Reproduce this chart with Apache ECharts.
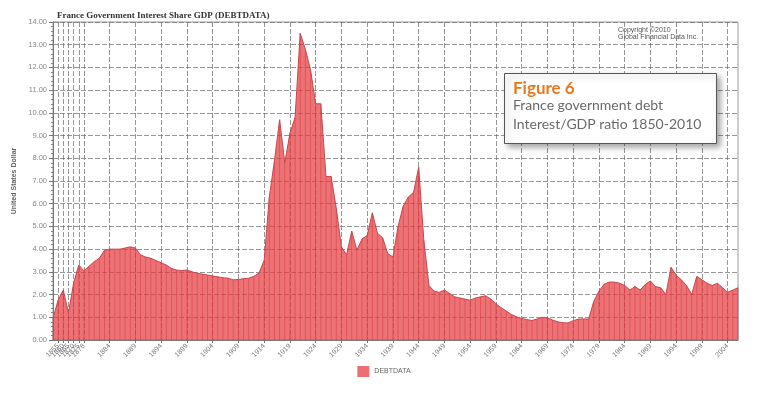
<!DOCTYPE html>
<html>
<head>
<meta charset="utf-8">
<script src="https://cdn.jsdelivr.net/npm/echarts@6/dist/echarts.min.js"></script>
<style>
html,body{margin:0;padding:0;background:#fff;}
#chart{width:768px;height:398px;}
</style>
</head>
<body>
<div id="chart"></div>
<script>
// Category labels (years); early period is sparse
var earlyYears = ['1850','1855','1860','1865','1870','1875','1878','1880','1881','1882','1883'];
var earlyValues = [0.95, 1.76, 2.2, 1.2, 2.5, 3.3, 3.05, 3.25, 3.45, 3.6, 3.95];

var annualStart = 1884;
var annualValues = [
  4.0, 4.0, 4.0, 4.05, 4.1, 4.05, 3.75, 3.65, 3.6, 3.5,
  3.4, 3.3, 3.15, 3.08, 3.05, 3.08, 3.0, 2.94, 2.9, 2.86,
  2.82, 2.78, 2.74, 2.72, 2.65, 2.66, 2.7, 2.72, 2.8, 2.95,
  3.5, 6.3, 7.9, 9.7, 7.8, 9.1, 9.8, 13.5, 12.8, 11.9,
  10.4, 10.4, 7.2, 7.2, 5.8, 4.1, 3.75, 4.8, 3.96, 4.45,
  4.6, 5.6, 4.7, 4.5, 3.8, 3.66, 5.0, 5.9, 6.3, 6.5,
  7.6, 4.4, 2.4, 2.15, 2.1, 2.2, 2.05, 1.9, 1.85, 1.8,
  1.75, 1.85, 1.9, 1.95, 1.8, 1.6, 1.42, 1.28, 1.12, 1.02,
  0.95, 0.9, 0.86, 0.92, 1.0, 0.97, 0.88, 0.8, 0.76, 0.75,
  0.85, 0.92, 0.93, 0.92, 1.7, 2.15, 2.45, 2.55, 2.55, 2.5,
  2.4, 2.2, 2.35, 2.2, 2.45, 2.6, 2.35, 2.3, 2.0, 3.2,
  2.85, 2.65, 2.4, 2.0, 2.8, 2.65, 2.5, 2.4, 2.5, 2.3,
  2.1, 2.2, 2.3
];

var annualYears = [];
for (var i = 0; i < annualValues.length; i++) annualYears.push(String(annualStart + i));
var categories = earlyYears.concat(annualYears);
var values = earlyValues.concat(annualValues);

var yTicks = {min: 0, max: 14, interval: 1};

function showTick(idx, val) {
  if (idx < 7) return true;
  if (idx < earlyYears.length) return false;
  return (Number(val) - annualStart) % 5 === 0;
}

var chart = echarts.init(document.getElementById('chart'), null, {renderer: 'canvas'});
chart.setOption({
  backgroundColor: '#ffffff',
  animation: false,
  grid: {left: 53, right: 30, top: 22, bottom: 58, show: true, borderColor: '#9a9a9a', borderWidth: 1, backgroundColor: 'transparent'},
  legend: {
    data: ['DEBTDATA'],
    bottom: 16, left: 'center',
    icon: 'rect', itemWidth: 12, itemHeight: 11, itemGap: 6,
    textStyle: {color: '#666', fontSize: 7, fontFamily: 'Liberation Sans'},
    itemStyle: {color: '#ec6f72'}
  },
  xAxis: {
    type: 'category',
    data: categories,
    boundaryGap: false,
    axisLine: {lineStyle: {color: '#777'}},
    axisTick: {show: true, interval: showTick, length: 3, lineStyle: {color: '#777'}},
    axisLabel: {interval: showTick, rotate: 45, fontSize: 7, color: '#777', fontFamily: 'Liberation Sans', margin: 5},
    splitLine: {show: true, interval: showTick, lineStyle: {color: '#6a6a6a', width: 0.7, type: [5, 2]}}
  },
  yAxis: {
    type: 'value',
    min: yTicks.min, max: yTicks.max, interval: yTicks.interval,
    name: 'United States Dollar',
    nameLocation: 'middle', nameGap: 30, nameRotate: 90,
    nameTextStyle: {fontSize: 7, color: '#666', fontFamily: 'Liberation Sans', fontWeight: 'bold'},
    axisLine: {show: true, lineStyle: {color: '#777'}},
    axisTick: {show: true, length: 4, lineStyle: {color: '#777'}},
    minorTick: {show: true, splitNumber: 5, length: 2, lineStyle: {color: '#888'}},
    axisLabel: {formatter: function (v) { return v.toFixed(2); }, fontSize: 7.5, color: '#888', fontFamily: 'Liberation Sans', margin: 6},
    splitLine: {show: true, lineStyle: {color: '#6a6a6a', width: 0.7, type: [5, 2]}}
  },
  series: [
    {
      name: 'stripes',
      type: 'bar',
      data: values,
      barWidth: 1,
      itemStyle: {color: 'rgba(140,20,25,0.45)'},
      z: 1,
      silent: true
    },
    {
      name: 'DEBTDATA',
      type: 'line',
      data: values,
      symbol: 'none',
      smooth: false,
      lineStyle: {color: '#c9464b', width: 1},
      itemStyle: {color: '#ec6f72'},
      areaStyle: {color: 'rgb(230,60,64)', opacity: 0.72},
      z: 2
    }
  ],
  graphic: [
    {type: 'text', left: 57, top: 11, style: {text: 'France Government Interest Share GDP (DEBTDATA)', font: 'bold 9px "Liberation Serif"', fill: '#333'}},
    {type: 'text', left: 618, top: 27, style: {text: 'Copyright ©2010\nGlobal Financial Data Inc.', font: '7px "Liberation Sans"', fill: '#555', lineHeight: 7}},
    {type: 'rect', left: 504, top: 73, shape: {width: 212, height: 70}, style: {fill: '#fff', stroke: '#555', lineWidth: 1, shadowBlur: 6, shadowOffsetX: 3, shadowOffsetY: 3, shadowColor: 'rgba(0,0,0,0.35)'}, z: 100},
    {type: 'text', left: 513, top: 80, style: {text: 'Figure 6', font: 'bold 17px Lato', fill: '#e8781e'}, z: 101},
    {type: 'text', left: 513, top: 98, style: {text: 'France government debt', font: '14px Lato', fill: '#6a6a6a'}, z: 101},
    {type: 'text', left: 513, top: 117, style: {text: 'Interest/GDP ratio 1850-2010', font: '14px Lato', fill: '#6a6a6a'}, z: 101}
  ]
});
</script>
</body>
</html>
